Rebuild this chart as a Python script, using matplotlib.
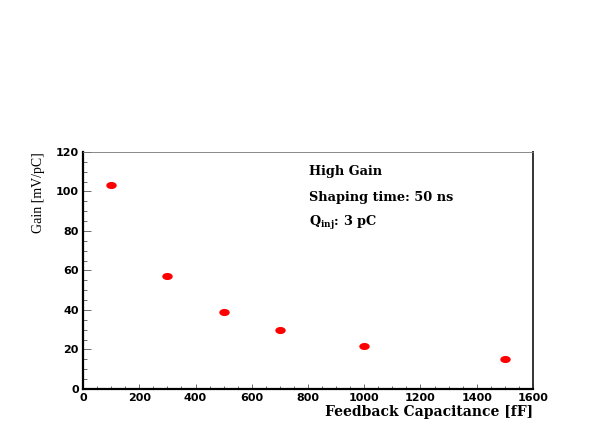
import matplotlib
matplotlib.use('Agg')
import matplotlib.pyplot as plt
import numpy as np
from matplotlib.path import Path
from matplotlib.ticker import MultipleLocator

# Data
capacitance = [100, 300, 500, 700, 1000, 1500]   # fF
gain = [103.2, 57.2, 39.0, 29.8, 21.8, 15.1]      # mV/pC

plt.rcParams['mathtext.fontset'] = 'custom'
plt.rcParams['mathtext.rm'] = 'DejaVu Serif'
plt.rcParams['mathtext.bf'] = 'DejaVu Serif:bold'

# elliptic marker (wider than tall, like the original)
t = np.linspace(0, 2 * np.pi, 40)
ellipse = Path(np.column_stack([np.cos(t), 0.68 * np.sin(t)]))

fig = plt.figure(figsize=(5.99, 4.36), dpi=100)
ax = fig.add_axes([0.1386, 0.1078, 0.7512, 0.5436])

ax.plot(capacitance, gain, linestyle='none', marker=ellipse,
        markersize=7.5, color='#ff0000', markeredgewidth=0)

ax.set_xlim(0, 1600)
ax.set_ylim(0, 120)
ax.xaxis.set_major_locator(MultipleLocator(200))
ax.xaxis.set_minor_locator(MultipleLocator(50))
ax.yaxis.set_major_locator(MultipleLocator(20))
ax.yaxis.set_minor_locator(MultipleLocator(5))
ax.tick_params(which='both', direction='in', top=False, right=False,
               color='#555555', width=0.6)
ax.tick_params(axis='y', which='major', length=6, pad=3)
ax.tick_params(axis='y', which='minor', length=3)
ax.tick_params(axis='x', which='major', length=3.5, pad=3)
ax.tick_params(axis='x', which='minor', length=2)

for lab in ax.get_xticklabels() + ax.get_yticklabels():
    lab.set_fontfamily('DejaVu Sans')
    lab.set_fontweight('bold')
    lab.set_fontsize(8)

ax.spines['left'].set_linewidth(1.6)
ax.spines['bottom'].set_linewidth(1.6)
ax.spines['right'].set_linewidth(1.4)
ax.spines['right'].set_color('#333333')
ax.spines['top'].set_linewidth(0.6)
ax.spines['top'].set_color('#777777')

ax.set_xlabel('Feedback Capacitance [fF]', family='DejaVu Serif',
              fontweight='bold', fontsize=10, loc='right', labelpad=1)
ax.set_ylabel('Gain [mV/pC]', family='Liberation Serif', fontsize=10,
              loc='top', labelpad=8)

txt = dict(family='DejaVu Serif', fontweight='bold', fontsize=9.3,
           transform=ax.transAxes, va='center', ha='left')
ax.text(0.502, 0.916, 'High Gain', **txt)
ax.text(0.502, 0.806, 'Shaping time: 50 ns', **txt)
ax.text(0.502, 0.70, r'Q$_{\mathbf{inj}}$: 3 pC', **txt)

fig.savefig('out.png', dpi=100)
